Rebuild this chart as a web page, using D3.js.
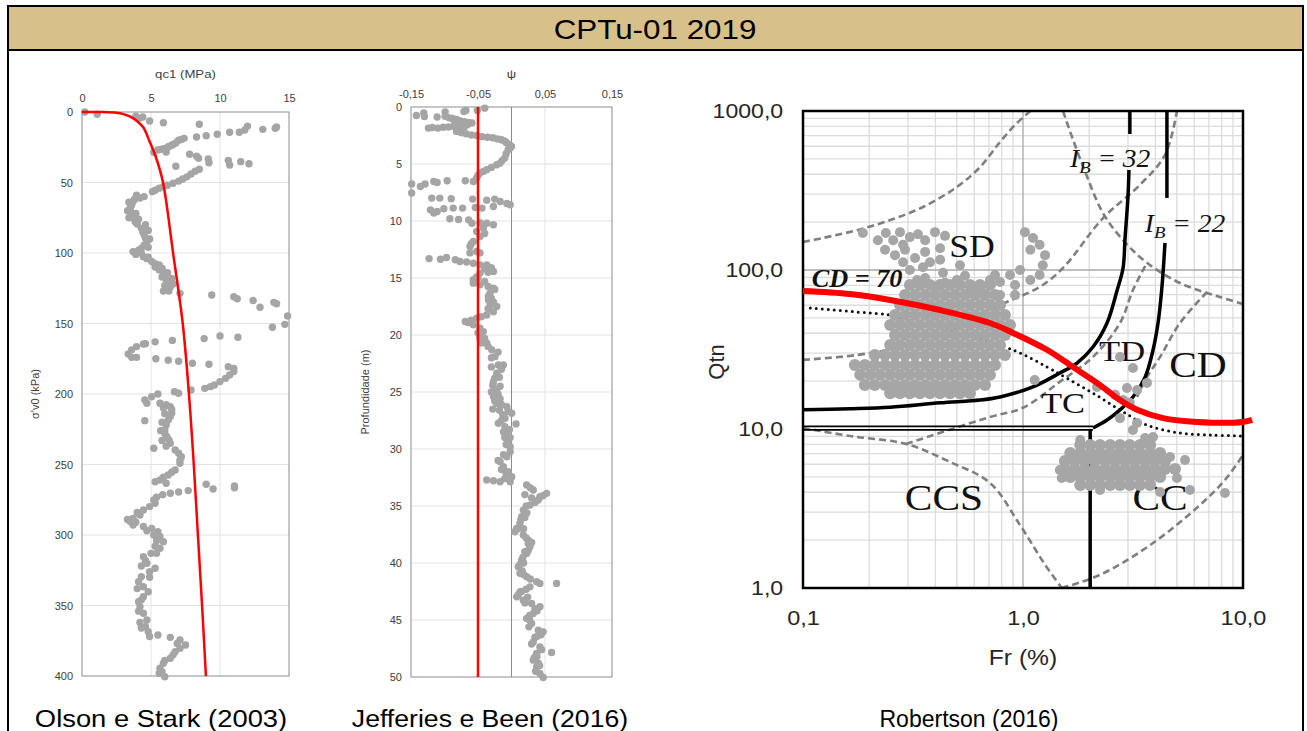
<!DOCTYPE html>
<html>
<head>
<meta charset="utf-8">
<script src="https://cdn.jsdelivr.net/npm/d3@7"></script>
<style>
  body { margin: 0; background: #fff; }
  svg text { font-family: "Liberation Sans", Arial, sans-serif; }
</style>
</head>
<body>
<svg id="fig" width="1307" height="731"></svg>
<script>
// ---------- Olson e Stark (2003): qc1 (MPa) vs sigma'v0 (kPa) ----------
const olsonXTicks = [0, 5, 10, 15];
const olsonYTicks = [0, 50, 100, 150, 200, 250, 300, 350, 400];
const olsonBoundary = [[0, 0], [1.5, 0], [2.5, 0.5], [3, 1.5], [3.5, 3.3], [4, 6.5], [4.45, 11], [4.9, 21],
  [5.3, 30.5], [5.85, 49], [6.6, 100], [7.3, 150], [7.75, 200], [8.1, 250], [8.4, 300], [8.7, 350], [8.98, 400]];
const olsonPoints = [
  [0.2, 0], [1.1, 1.6], [3.9, 3], [4.15, 4.5], [4.4, 3.5], [4.9, 6.4], [5.9, 7.6], [8.5, 8.7], [12.0, 10], [11.8, 12.8],
  [13.1, 12.3], [14.1, 10.6], [14.0, 11.5], [11.4, 14.4], [10.7, 14.4], [9.8, 15.8], [9.0, 16.8], [8.3, 17.7],
  [7.4, 18.7], [7.2, 19.5], [7.0, 20], [6.8, 22], [6.6, 23], [6.5, 23.5], [6.3, 24.5], [6.2, 25], [5.9, 26], [5.7, 26.5],
  [5.5, 27], [5.2, 28.5], [6.1, 28.4], [7.8, 30], [8.3, 31.4], [8.45, 32.8], [9.15, 33.3], [9.2, 36], [10.6, 34.3],
  [10.7, 37.6], [11.5, 35.2], [12.1, 36.7], [6.8, 38.5], [8.5, 40.6], [8.2, 42], [7.9, 44], [7.6, 46], [7.3, 47.5],
  [7.0, 49], [6.6, 50.5], [6.2, 52], [5.9, 53], [5.6, 54], [5.3, 55.5], [5.1, 56.5], [3.95, 59], [4.5, 60], [4.2, 61],
  [3.8, 62], [3.7, 63.5], [3.4, 64], [3.6, 66], [3.5, 68], [3.3, 70], [3.5, 70.6], [3.9, 72], [3.6, 73], [3.7, 75], [3.4, 75],
  [4.1, 76], [3.85, 77.8], [4.0, 79.5], [4.6, 80], [4.3, 82.5], [4.8, 84], [4.4, 85], [4.5, 87], [4.6, 89.5], [4.9, 90],
  [4.7, 92], [4.5, 94.5], [4.8, 96], [4.3, 96.7], [4.1, 98], [3.7, 99], [4.3, 100], [3.9, 101], [4.45, 102.6], [4.8, 103],
  [4.7, 104], [5.05, 106], [5.3, 107.5], [5.6, 108.5], [5.3, 110], [5.8, 111], [5.6, 112], [5.9, 113], [6.2, 114],
  [5.8, 117], [6.0, 116], [6.5, 118], [6.1, 119], [6.3, 121], [6.6, 122], [6.0, 123], [6.4, 124], [6.2, 126], [6.3, 127],
  [5.9, 127], [7.1, 128.6], [9.4, 129.8], [11.0, 131], [11.25, 132.4], [12.4, 133.7], [12.9, 138.5], [13.9, 135], [14.1, 136],
  [14.9, 144.7], [14.7, 150.6], [13.8, 152.7], [11.3, 159.8], [10.0, 158.9], [8.85, 160.7], [6.55, 162], [5.3, 163],
  [4.6, 164.3], [4.45, 164.5], [3.95, 166.4], [3.6, 168.7], [3.35, 171.6], [3.6, 174], [3.95, 174], [5.35, 175], [6.25, 176],
  [7.0, 176.8], [8.0, 178.2], [9.2, 178.9], [10.6, 180.6], [11.0, 181.8], [11.0, 184], [10.7, 186.5], [10.4, 188.9],
  [10.0, 191.2], [9.6, 193.6], [9.3, 194.8], [8.9, 196], [7.9, 197.2], [6.7, 198.4], [7.0, 199.5], [5.5, 200], [5.05, 201.9],
  [4.55, 204.3], [4.7, 206.6], [5.65, 206.6], [6.1, 207.5], [6.4, 209], [5.9, 210], [6.5, 211], [6.5, 213.7], [6.0, 214],
  [6.4, 216], [6.25, 218.5], [4.55, 218.9], [5.8, 220], [6.1, 222], [6.0, 225.5], [5.7, 226], [6.0, 228], [6.15, 230.3],
  [6.3, 232.5], [5.8, 233], [6.4, 235], [6.1, 237], [5.2, 238.5], [6.75, 239.7], [7.0, 242], [7.2, 244.5], [7.1, 247],
  [7.1, 249.2], [6.75, 253.9], [6.5, 255.5], [6.25, 257.4], [5.9, 259], [5.65, 261], [5.3, 262.2], [6.1, 263.3], [9.0, 264],
  [9.5, 267.4], [11.05, 265.2], [11.05, 266.5], [7.7, 268.5], [7.0, 269.5], [6.4, 270.4], [5.85, 271.4], [5.4, 273.2],
  [5.2, 275.2], [5.3, 277.5], [4.9, 279.9], [4.45, 282.3], [4.0, 284], [4.2, 285.8], [3.7, 288.2], [3.3, 289], [3.5, 290.5],
  [3.9, 291], [3.7, 292.9], [4.45, 294], [5.05, 295.3], [4.7, 297], [5.5, 297.6], [5.2, 300], [5.65, 301.1], [5.4, 304],
  [5.9, 304.7], [5.3, 308], [5.65, 309.4], [5.4, 313], [5.0, 313], [4.45, 315.4], [4.6, 318], [4.7, 320.1], [4.3, 322],
  [5.3, 323.6], [4.9, 326], [4.3, 329.6], [4.9, 330], [4.1, 333.1], [4.45, 336.7], [4.0, 338], [4.8, 340.2], [4.45, 343.8],
  [4.3, 346], [4.1, 347.3], [4.2, 350.9], [4.1, 354], [4.45, 355.5], [4.7, 360.3], [4.2, 362], [4.6, 365], [4.3, 366],
  [4.8, 368.6], [5.5, 370.9], [4.9, 372], [6.4, 372.6], [7.1, 374.5], [6.9, 377], [7.5, 378], [7.1, 380.4], [6.75, 382.8],
  [6.6, 385], [6.4, 387.4], [6.0, 389], [5.9, 391], [5.65, 394.5], [5.8, 397], [5.6, 398], [6.0, 400.5]
];

// ---------- Jefferies e Been (2016): psi vs depth (m) ----------
const jbXTicks = [-0.15, -0.05, 0.05, 0.15];
const jbYTicks = [0, 5, 10, 15, 20, 25, 30, 35, 40, 45, 50];
const jbLimit = [[-0.05, 0], [-0.05, 50]];
const jbPoints = [
  [-0.040, 0.1], [-0.068, 0.3], [-0.071, 0.4], [-0.051, 0.3], [-0.142, 0.74], [-0.131, 0.53], [-0.130, 0.83], [-0.111, 0.88],
  [-0.099, 0.44], [-0.099, 0.82], [-0.093, 0.95], [-0.088, 1.0], [-0.082, 1.1], [-0.077, 1.2], [-0.070, 1.3], [-0.064, 1.35],
  [-0.059, 1.4], [-0.085, 1.3], [-0.075, 1.45], [-0.066, 1.55], [-0.124, 1.85], [-0.118, 1.8], [-0.110, 1.85], [-0.102, 1.78],
  [-0.094, 1.75], [-0.086, 1.72], [-0.078, 1.7], [-0.070, 1.7], [-0.082, 2.14], [-0.075, 2.25], [-0.068, 2.35], [-0.060, 2.45],
  [-0.052, 2.5], [-0.044, 2.6], [-0.036, 2.65], [-0.028, 2.7], [-0.021, 2.8], [-0.015, 2.87], [-0.010, 3.0], [-0.007, 3.16],
  [-0.003, 3.3], [0.0, 3.46], [-0.002, 3.6], [-0.005, 3.75], [-0.008, 4.1], [-0.010, 4.48], [-0.014, 4.7], [-0.017, 4.92],
  [-0.022, 5.07], [-0.030, 5.3], [-0.037, 5.5], [-0.042, 5.65], [-0.047, 5.8], [-0.050, 6.0], [-0.052, 6.23], [-0.057, 6.53],
  [-0.069, 6.47], [-0.096, 6.47], [-0.116, 6.53], [-0.111, 6.62], [-0.149, 6.76], [-0.136, 6.97], [-0.129, 6.76],
  [-0.149, 7.55], [-0.119, 7.99], [-0.107, 7.99], [-0.090, 8.05], [-0.058, 8.08], [-0.037, 8.17], [-0.025, 8.08],
  [-0.017, 8.29], [-0.007, 8.46], [-0.002, 8.58], [-0.121, 9.02], [-0.111, 9.17], [-0.101, 8.93], [-0.087, 8.87],
  [-0.073, 8.87], [-0.054, 8.81], [-0.044, 8.87], [-0.027, 8.73], [-0.116, 9.3], [-0.092, 9.8], [-0.079, 9.87], [-0.064, 9.9],
  [-0.059, 10.2], [-0.047, 10.15], [-0.037, 10.2], [-0.027, 10.33], [-0.042, 10.62], [-0.052, 10.92], [-0.047, 11.36],
  [-0.040, 11.1], [-0.057, 11.8], [-0.062, 12.24], [-0.052, 12.68], [-0.060, 12.0], [-0.062, 12.8], [-0.047, 12.8],
  [-0.123, 13.3], [-0.106, 13.35], [-0.097, 13.2], [-0.084, 13.4], [-0.077, 13.55], [-0.067, 13.6], [-0.057, 13.7],
  [-0.047, 13.85], [-0.037, 13.85], [-0.030, 14.1], [-0.040, 14.2], [-0.027, 14.43], [-0.035, 14.5], [-0.047, 14.57],
  [-0.052, 14.9], [-0.050, 15.0], [-0.057, 15.16], [-0.040, 15.3], [-0.057, 15.45], [-0.047, 15.6], [-0.035, 15.75],
  [-0.027, 15.9], [-0.025, 16.0], [-0.032, 16.33], [-0.0345, 16.6], [-0.030, 16.8], [-0.0345, 16.92], [-0.027, 17.1],
  [-0.032, 17.36], [-0.022, 17.5], [-0.035, 17.7], [-0.027, 17.95], [-0.037, 18.24], [-0.045, 18.4], [-0.052, 18.53],
  [-0.060, 18.7], [-0.069, 18.82], [-0.065, 18.9], [-0.057, 19.1], [-0.047, 19.4], [-0.042, 19.7], [-0.050, 19.8],
  [-0.047, 20.0], [-0.047, 20.28], [-0.040, 20.3], [-0.045, 20.7], [-0.037, 20.72], [-0.035, 21.0], [-0.0295, 21.3],
  [-0.020, 21.5], [-0.0246, 21.9], [-0.030, 22.0], [-0.0196, 22.63], [-0.0122, 22.63], [-0.030, 22.8], [-0.015, 23.0],
  [-0.022, 23.35], [-0.018, 23.7], [-0.025, 23.8], [-0.027, 24.1], [-0.028, 24.4], [-0.017, 24.5], [-0.022, 24.82],
  [-0.030, 25.0], [-0.020, 25.2], [-0.027, 25.4], [-0.017, 25.6], [-0.025, 25.8], [-0.022, 26.0], [-0.015, 26.1],
  [-0.007, 26.3], [-0.028, 26.5], [-0.018, 26.6], [-0.005, 26.7], [0.0003, 26.87], [-0.013, 27.0], [-0.0097, 27.3],
  [-0.015, 27.5], [-0.0196, 27.74], [0.0067, 27.8], [-0.0097, 28.04], [-0.003, 28.3], [-0.012, 28.5], [-0.007, 28.62],
  [-0.002, 29.0], [-0.010, 29.0], [-0.0048, 29.2], [-0.008, 29.6], [-0.002, 29.8], [-0.002, 30.24], [-0.012, 30.5],
  [-0.007, 30.68], [-0.020, 31.0], [-0.017, 31.11], [-0.012, 31.55], [-0.015, 31.8], [-0.005, 31.99], [-0.008, 32.2],
  [0.0003, 32.43], [-0.002, 32.87], [-0.037, 32.72], [-0.027, 32.78], [-0.017, 32.87], [-0.010, 32.6], [0.0226, 33.16],
  [0.028, 33.4], [0.0325, 33.6], [0.020, 34.0], [0.047, 34.1], [0.0424, 34.19], [0.030, 34.3], [0.0524, 33.89], [0.040, 34.48],
  [0.035, 34.7], [0.0275, 34.92], [0.022, 35.0], [0.0176, 35.36], [0.023, 35.6], [0.0152, 35.94], [0.020, 36.0],
  [0.014, 36.2], [0.0126, 36.52], [0.0077, 36.96], [0.018, 37.0], [0.010, 37.0], [0.0052, 37.26], [0.0176, 37.55],
  [0.022, 37.8], [0.025, 37.99], [0.030, 38.2], [0.025, 38.3], [0.0275, 38.58], [0.025, 38.9], [0.020, 39.0], [0.0226, 39.16],
  [0.017, 39.5], [0.0152, 39.75], [0.018, 40.0], [0.013, 40.1], [0.0101, 40.33], [0.016, 40.7], [0.0126, 40.91], [0.018, 41.0],
  [0.0226, 41.21], [0.028, 41.4], [0.0375, 41.65], [0.0424, 41.79], [0.0673, 41.79], [0.0275, 42.09], [0.022, 42.3],
  [0.015, 42.5], [0.0126, 42.53], [0.010, 42.8], [0.0077, 42.97], [0.024, 43.0], [0.0176, 43.26], [0.020, 43.5],
  [0.030, 43.55], [0.0424, 43.84], [0.035, 44.0], [0.038, 44.2], [0.0325, 44.43], [0.027, 44.6], [0.0226, 44.86],
  [0.027, 45.0], [0.030, 45.3], [0.026, 45.6], [0.040, 45.89], [0.0473, 46.04], [0.044, 46.3], [0.0375, 46.48], [0.035, 46.5],
  [0.0325, 46.92], [0.030, 47.1], [0.0424, 47.36], [0.045, 47.6], [0.0598, 47.85], [0.0375, 47.94], [0.038, 48.2],
  [0.034, 48.3], [0.0325, 48.52], [0.040, 48.8], [0.042, 49.0], [0.0375, 49.11], [0.036, 49.5], [0.0424, 49.69],
  [0.0473, 50.04]
];

// ---------- Robertson (2016): Fr (%) vs Qtn ----------
const robXTicks = [0.1, 1, 10];
const robYTicks = [1, 10, 100, 1000];
const robMinorX = [0.2, 0.3, 0.4, 0.5, 0.6, 0.7, 0.8, 0.9, 2, 3, 4, 5, 6, 7, 8, 9];
const robMinorY = [2, 3, 4, 5, 6, 7, 8, 9, 20, 30, 40, 50, 60, 70, 80, 90, 200, 300, 400, 500, 600, 700, 800, 900];
const robDashed = [
  [[0.1, 150], [0.123, 159], [0.176, 178], [0.249, 206], [0.351, 249], [0.501, 333], [0.638, 444], [0.786, 638], [0.92, 817], [1.08, 1000]],
  [[1.52, 1000], [1.69, 657], [1.95, 390], [2.31, 228], [2.85, 154], [3.66, 111], [5.17, 82.8], [7.86, 67.6], [10, 61.1]],
  [[0.1, 27.2], [0.176, 29.2], [0.276, 32.8], [0.466, 42], [0.786, 60.2], [1.19, 78.2], [1.52, 103], [2.31, 212], [3.40, 343], [4.42, 529], [5.01, 1000]],
  [[0.1, 10.15], [0.164, 9.03], [0.294, 8.05], [0.466, 6.2], [0.708, 4.58], [0.969, 2.49], [1.26, 1.40], [1.50, 1]],
  [[0.294, 8.05], [0.708, 11.9], [1.0, 13.6], [1.47, 19.8], [2.08, 28.4], [2.76, 46.4], [3.16, 74.8], [3.66, 111]],
  [[1.50, 1], [2.24, 1.21], [3.78, 1.86], [6.38, 3.33], [8.28, 4.78], [10, 6.86]],
  [[6.86, 72.7], [5.17, 46.4], [4.20, 28.4], [3.66, 21.2], [3.30, 15.9]]
];
const robDotted = [[0.108, 57.7], [0.176, 54.4], [0.249, 52.1], [0.306, 48.5], [0.90, 31.4], [1.29, 24.5], [1.58, 20.9],
  [2.08, 16.8], [2.76, 13.2], [3.66, 10.6], [5.17, 9.43], [7.31, 9.16], [10, 9.03]];
const robIB32 = [
  [[0.1, 13.2], [0.164, 13.4], [0.249, 13.7], [0.42, 14.6], [0.638, 15.2], [0.786, 15.9], [1.11, 18.4], [1.47, 22.5], [1.76, 26.0],
   [2.08, 32.8], [2.41, 46.4], [2.68, 74.8], [2.85, 103], [2.91, 159], [3.0, 288], [3.03, 426]],
  [[3.06, 717], [3.06, 1000]]
];
const robIB22 = [
  [[2.08, 10.15], [2.41, 11.4], [2.76, 13.2], [3.16, 15.9], [3.59, 21.2], [3.90, 31.4], [4.11, 46.4], [4.24, 67.6], [4.33, 95.7], [4.42, 148]],
  [[4.51, 284], [4.51, 1000]]
];
const robDoubleLine = [[[0.1, 10.4], [2.08, 10.4]], [[0.1, 9.86], [2.08, 9.86]]];
const robFrLimit = [[2.02, 10], [2.02, 1]];
const robCD70 = [[0.1, 73.8], [0.164, 70.6], [0.249, 64.8], [0.42, 56], [0.708, 46.4], [0.90, 40.2], [1.29, 31.4], [1.69, 24.5],
  [2.17, 19.5], [2.76, 15.2], [3.30, 13.2], [4.33, 11.7], [6.18, 11.07], [10, 11.07], [11.0, 11.4]];

// main SD cloud, row by row: Qtn and the Fr values of the dots in that row
const robCloudRows = [
  [80.5, [0.306, 0.340, 0.378, 0.42, 0.466, 0.517, 0.574, 0.638, 0.708]],
  [69.6, [0.291, 0.323, 0.359, 0.398, 0.442, 0.491, 0.545, 0.605, 0.672, 0.746]],
  [60.2, [0.276, 0.306, 0.340, 0.378, 0.42, 0.466, 0.517, 0.574, 0.638, 0.708, 0.786]],
  [52.1, [0.262, 0.291, 0.323, 0.359, 0.398, 0.442, 0.491, 0.545, 0.605, 0.672, 0.746, 0.828]],
  [45.1, [0.249, 0.276, 0.306, 0.340, 0.378, 0.42, 0.466, 0.517, 0.574, 0.638, 0.708, 0.786, 0.873]],
  [39.0, [0.262, 0.291, 0.323, 0.359, 0.398, 0.442, 0.491, 0.545, 0.605, 0.672, 0.746, 0.828]],
  [33.8, [0.249, 0.276, 0.306, 0.340, 0.378, 0.42, 0.466, 0.517, 0.574, 0.638, 0.708, 0.786]],
  [29.2, [0.212, 0.236, 0.262, 0.291, 0.323, 0.359, 0.398, 0.442, 0.491, 0.545, 0.605, 0.672, 0.746, 0.828]],
  [25.3, [0.172, 0.191, 0.212, 0.236, 0.262, 0.291, 0.323, 0.359, 0.398, 0.442, 0.491, 0.545, 0.605, 0.672, 0.746]],
  [21.9, [0.182, 0.202, 0.224, 0.249, 0.276, 0.306, 0.340, 0.378, 0.42, 0.466, 0.517, 0.574, 0.638, 0.708]],
  [18.9, [0.191, 0.212, 0.236, 0.262, 0.291, 0.323, 0.359, 0.398, 0.442, 0.491, 0.545, 0.605, 0.672]],
  [16.8, [0.249, 0.276, 0.306, 0.340, 0.378, 0.42, 0.466, 0.517, 0.574]]
];
// CC cloud, same layout
const robClayRows = [
  [7.93, [1.82, 2.02, 2.24, 2.49, 2.76, 3.06, 3.40, 3.78]],
  [7.07, [1.64, 1.82, 2.02, 2.24, 2.49, 2.76, 3.06, 3.40, 3.78, 4.20]],
  [6.29, [1.55, 1.72, 1.91, 2.12, 2.36, 2.62, 2.91, 3.23, 3.59, 3.98, 4.42]],
  [5.60, [1.55, 1.72, 1.91, 2.12, 2.36, 2.62, 2.91, 3.23, 3.59, 3.98, 4.42, 4.91]],
  [4.99, [1.64, 1.82, 2.02, 2.24, 2.49, 2.76, 3.06, 3.40, 3.78, 4.20]],
  [4.44, [1.82, 2.02, 2.24, 2.49, 2.76, 3.06, 3.40, 3.78]]
];
const robScatter = [
  [0.187, 171], [0.219, 154], [0.238, 171], [0.257, 154], [0.276, 173], [0.285, 144], [0.306, 161], [0.333, 168], [0.359, 154],
  [0.398, 173], [0.442, 164], [0.236, 134], [0.262, 124], [0.291, 134], [0.323, 119], [0.359, 130], [0.42, 137],
  [0.378, 112], [0.285, 112], [0.351, 104], [0.42, 116], [0.433, 96], [0.517, 107], [0.33, 86.5], [0.407, 78],
  [0.501, 86.5], [0.593, 74.8], [0.708, 86.5], [0.306, 100], [0.359, 89], [0.442, 83], [0.545, 92], [0.638, 76.5],
  [1.02, 173], [1.11, 159], [1.19, 144], [1.26, 124], [1.08, 134], [1.23, 107], [0.969, 100], [0.873, 93], [0.786, 84],
  [0.92, 80.5], [0.746, 93], [1.19, 93], [1.08, 86.5], [0.786, 69.6], [0.92, 69.6],
  [2.17, 18.4], [2.62, 16.4], [2.76, 28.4], [3.16, 24.2], [3.66, 19.5], [2.97, 18.1], [3.30, 17.6], [2.85, 15.2], [3.06, 14.6],
  [2.76, 11.7], [3.30, 10.9], [3.16, 9.86], [1.13, 20.3],
  [1.47, 5.52], [1.50, 4.92], [4.66, 6.67], [5.45, 6.38], [5.01, 4.92], [5.74, 4.13], [8.28, 3.96], [1.82, 8.53], [3.90, 8.91],
  [3.59, 8.78], [4.20, 4.02], [2.24, 4.13]
];
// zone names of the chart template: text, Fr, Qtn (baseline), font size
const robZones = [
  ['SD', 0.586, 121, 31], ['TD', 2.82, 26.8, 30], ['CD', 6.24, 21.2, 36], ['TC', 1.52, 12.6, 30],
  ['CCS', 0.437, 3.1, 36], ['CC', 4.2, 3.1, 36]
];
const robIBLabels = [['32', 2.49, 444], ['22', 5.45, 173]];

const captions = ['Olson e Stark (2003)', 'Jefferies e Been (2016)', 'Robertson (2016)'];
const captionX = [161, 490, 969];
const captionStretch = [1.14, 1.11, 1.0];

const commaFmt = d3.formatLocale({ decimal: ',', thousands: '.', grouping: [3], currency: ['', ''], minus: '-' });

const svg = d3.select('#fig');

// ---------- frame and header ----------
svg.append('rect')
  .attr('x', 8).attr('y', 6).attr('width', 1295).attr('height', 44)
  .attr('fill', '#d8c08a');
svg.append('path')
  .attr('d', 'M8,740 V6 H1303 V740 M8,50 H1303')
  .attr('fill', 'none').attr('stroke', '#000').attr('stroke-width', 2);
svg.append('text')
  .attr('transform', 'translate(655,39) scale(1.12,1)')
  .attr('text-anchor', 'middle')
  .attr('font-size', 28)
  .text('CPTu-01 2019');

svg.selectAll('text.caption')
  .data(captions)
  .enter()
  .append('text')
  .attr('class', 'caption')
  .attr('transform', (d, i) => `translate(${captionX[i]},727) scale(${captionStretch[i]},1)`)
  .attr('text-anchor', 'middle')
  .attr('font-size', d => d.startsWith('Robertson') ? 23 : 24)
  .text(d => d);

// simple excel-like scatter panel
function excelPanel(opts) {
  const g = svg.append('g');
  const x = opts.x, y = opts.y;
  const [x0, x1] = x.range();
  const [y0, y1] = y.range();

  g.append('g')
    .selectAll('line')
    .data(opts.xGrid)
    .enter()
    .append('line')
    .attr('x1', d => x(d)).attr('x2', d => x(d))
    .attr('y1', y0).attr('y2', y1)
    .attr('stroke', '#e3e3e3');

  g.append('g')
    .selectAll('line')
    .data(opts.yGrid)
    .enter()
    .append('line')
    .attr('x1', x0).attr('x2', x1)
    .attr('y1', d => y(d)).attr('y2', d => y(d))
    .attr('stroke', '#e3e3e3');

  if (opts.zeroLine !== undefined) {
    g.append('line')
      .attr('x1', x(opts.zeroLine)).attr('x2', x(opts.zeroLine))
      .attr('y1', y0).attr('y2', y1)
      .attr('stroke', '#8c8c8c');
  }

  g.append('rect')
    .attr('x', x0).attr('y', y0).attr('width', x1 - x0).attr('height', y1 - y0)
    .attr('fill', 'none').attr('stroke', '#8c8c8c');

  const xAxis = g.append('g')
    .attr('transform', `translate(0,${y0})`)
    .call(d3.axisTop(x).tickValues(opts.xTicks).tickSize(0).tickPadding(opts.xPad).tickFormat(opts.xFormat));
  const yAxis = g.append('g')
    .attr('transform', `translate(${x0},0)`)
    .call(d3.axisLeft(y).tickValues(opts.yTicks).tickSize(0).tickPadding(9));
  [xAxis, yAxis].forEach(a => {
    a.select('.domain').remove();
    a.selectAll('text').attr('font-size', 11).attr('fill', '#404040')
      .style('font-family', '"Liberation Sans", Arial, sans-serif');
  });

  g.append('text')
    .attr('transform', `translate(${(x0 + x1) / 2},${opts.xTitleY}) scale(1.2,1)`)
    .attr('text-anchor', 'middle').attr('font-size', 11).attr('fill', '#404040')
    .text(opts.xTitle);
  g.append('text')
    .attr('transform', `translate(${opts.yTitleX},${(y0 + y1) / 2}) rotate(-90)`)
    .attr('text-anchor', 'middle').attr('font-size', 11).attr('fill', '#404040')
    .text(opts.yTitle);

  g.append('g')
    .selectAll('circle')
    .data(opts.points)
    .enter()
    .append('circle')
    .attr('cx', d => x(d[0])).attr('cy', d => y(d[1]))
    .attr('r', 3.7)
    .attr('fill', '#a5a5a5');

  g.append('path')
    .datum(opts.curve)
    .attr('d', d3.line().x(d => x(d[0])).y(d => y(d[1])).curve(d3.curveCatmullRom.alpha(0.5)))
    .attr('fill', 'none').attr('stroke', '#ff0000').attr('stroke-width', 2.5);
}

excelPanel({
  x: d3.scaleLinear().domain([0, 15]).range([82, 289]),
  y: d3.scaleLinear().domain([0, 400]).range([112, 676]),
  xGrid: [5, 10], yGrid: [50, 100, 150, 200, 250, 300, 350],
  xTicks: olsonXTicks, yTicks: olsonYTicks, xPad: 10, xFormat: d3.format('d'),
  xTitle: 'qc1 (MPa)', xTitleY: 78, yTitle: 'σ\'v0 (kPa)', yTitleX: 39,
  points: olsonPoints, curve: olsonBoundary
});

excelPanel({
  x: d3.scaleLinear().domain([-0.15, 0.15]).range([411, 612]),
  y: d3.scaleLinear().domain([0, 50]).range([107, 677]),
  xGrid: [-0.05, 0.05], yGrid: [5, 10, 15, 20, 25, 30, 35, 40, 45],
  xTicks: jbXTicks, yTicks: jbYTicks, xPad: 9, xFormat: commaFmt.format('.2f'),
  zeroLine: 0,
  xTitle: 'ψ', xTitleY: 78, yTitle: 'Profundidade (m)', yTitleX: 369,
  points: jbPoints, curve: jbLimit
});

// ---------- Robertson chart ----------
const rx = d3.scaleLog().domain([0.1, 10]).range([803, 1243]);
const ry = d3.scaleLog().domain([1, 1000]).range([588, 111]);
const rob = svg.append('g');
const robLine = d3.line().x(d => rx(d[0])).y(d => ry(d[1])).curve(d3.curveCatmullRom.alpha(0.5));
const serif = '"Liberation Serif", "Times New Roman", serif';

rob.append('g')
  .selectAll('line')
  .data(robMinorX)
  .enter()
  .append('line')
  .attr('x1', d => rx(d)).attr('x2', d => rx(d))
  .attr('y1', ry(1)).attr('y2', ry(1000))
  .attr('stroke', '#dcdcdc').attr('stroke-width', 1.3);
rob.append('g')
  .selectAll('line')
  .data(robMinorY)
  .enter()
  .append('line')
  .attr('x1', rx(0.1)).attr('x2', rx(10))
  .attr('y1', d => ry(d)).attr('y2', d => ry(d))
  .attr('stroke', '#dcdcdc').attr('stroke-width', 1.3);
rob.append('line')
  .attr('x1', rx(1)).attr('x2', rx(1)).attr('y1', ry(1)).attr('y2', ry(1000))
  .attr('stroke', '#a8a8a8').attr('stroke-width', 1.3);
rob.append('line')
  .attr('x1', rx(0.1)).attr('x2', rx(10)).attr('y1', ry(100)).attr('y2', ry(100))
  .attr('stroke', '#a8a8a8').attr('stroke-width', 1.3);

rob.append('g')
  .selectAll('path')
  .data(robDashed)
  .enter()
  .append('path')
  .attr('d', robLine)
  .attr('fill', 'none').attr('stroke', '#7f7f7f').attr('stroke-width', 2.6)
  .attr('stroke-dasharray', '7,4');

rob.append('path')
  .datum(robDotted)
  .attr('d', robLine)
  .attr('fill', 'none').attr('stroke', '#111').attr('stroke-width', 3)
  .attr('stroke-linecap', 'round').attr('stroke-dasharray', '0,6');

rob.append('g')
  .selectAll('path')
  .data(robIB32.concat(robIB22))
  .enter()
  .append('path')
  .attr('d', robLine)
  .attr('fill', 'none').attr('stroke', '#000').attr('stroke-width', 3.5);

rob.append('g')
  .selectAll('path')
  .data(robDoubleLine.concat([robFrLimit]))
  .enter()
  .append('path')
  .attr('d', d3.line().x(d => rx(d[0])).y(d => ry(d[1])))
  .attr('fill', 'none').attr('stroke', '#000').attr('stroke-width', (d, i) => i < 2 ? 1.8 : 3.5);

rob.append('rect')
  .attr('x', rx(0.1)).attr('y', ry(1000))
  .attr('width', rx(10) - rx(0.1)).attr('height', ry(1) - ry(1000))
  .attr('fill', 'none').attr('stroke', '#000').attr('stroke-width', 2.5);

// zone labels (part of the chart template)
rob.append('g')
  .selectAll('text')
  .data(robZones)
  .enter()
  .append('text')
  .attr('transform', d => `translate(${rx(d[1])},${ry(d[2])}) scale(1.15,1)`)
  .attr('text-anchor', 'middle')
  .attr('font-size', d => d[3])
  .style('font-family', serif)
  .attr('fill', '#111')
  .text(d => d[0]);

robIBLabels.forEach(([v, fr, q]) => {
  const t = rob.append('text')
    .attr('transform', `translate(${rx(fr)},${ry(q)}) scale(1.1,1)`)
    .attr('text-anchor', 'middle')
    .attr('font-size', 25)
    .style('font-family', serif)
    .style('font-style', 'italic')
    .attr('fill', '#111');
  t.append('tspan').text('I');
  t.append('tspan').attr('font-size', 17).attr('dy', 6).text('B');
  t.append('tspan').attr('dy', -6).text(' = ' + v);
});
rob.append('text')
  .attr('transform', `translate(${rx(0.176)},${ry(78)}) scale(1.05,1)`)
  .attr('text-anchor', 'middle')
  .attr('font-size', 25)
  .style('font-family', serif)
  .style('font-style', 'italic').style('font-weight', 'bold')
  .attr('fill', '#111')
  .text('CD = 70');

// data
const cloud = robCloudRows.flatMap(([q, frs]) => frs.map(fr => [fr, q]))
  .concat(robClayRows.flatMap(([q, frs]) => frs.map(fr => [fr, q])));
rob.append('g')
  .selectAll('circle')
  .data(cloud)
  .enter()
  .append('circle')
  .attr('cx', d => rx(d[0])).attr('cy', d => ry(d[1]))
  .attr('r', 6)
  .attr('fill', '#a6a6a6');
rob.append('g')
  .selectAll('circle')
  .data(robScatter)
  .enter()
  .append('circle')
  .attr('cx', d => rx(d[0])).attr('cy', d => ry(d[1]))
  .attr('r', 5)
  .attr('fill', '#a6a6a6');

rob.append('path')
  .datum(robCD70)
  .attr('d', robLine)
  .attr('fill', 'none').attr('stroke', '#ff0000').attr('stroke-width', 6);

// axes
const rxAxis = rob.append('g')
  .attr('transform', `translate(0,${ry(1)})`)
  .call(d3.axisBottom(rx).tickValues(robXTicks).tickSize(0).tickPadding(22).tickFormat(commaFmt.format('.1f')));
const ryAxis = rob.append('g')
  .attr('transform', `translate(${rx(0.1)},0)`)
  .call(d3.axisLeft(ry).tickValues(robYTicks).tickSize(0).tickPadding(18).tickFormat(commaFmt.format('.1f')));
[rxAxis, ryAxis].forEach(a => {
  a.select('.domain').remove();
  a.selectAll('text').attr('font-size', 21).attr('fill', '#262626')
    .style('font-family', '"Liberation Sans", Arial, sans-serif');
});
rxAxis.selectAll('text').attr('transform', 'scale(1.12,1)');
ryAxis.selectAll('text').attr('transform', 'scale(1.1,1)');
rob.append('text')
  .attr('transform', `translate(${rx(1)},665) scale(1.12,1)`)
  .attr('text-anchor', 'middle').attr('font-size', 22).attr('fill', '#262626')
  .text('Fr (%)');
rob.append('text')
  .attr('transform', `translate(724,362) rotate(-90)`)
  .attr('text-anchor', 'middle').attr('font-size', 22).attr('fill', '#262626')
  .text('Qtn');
</script>
</body>
</html>
